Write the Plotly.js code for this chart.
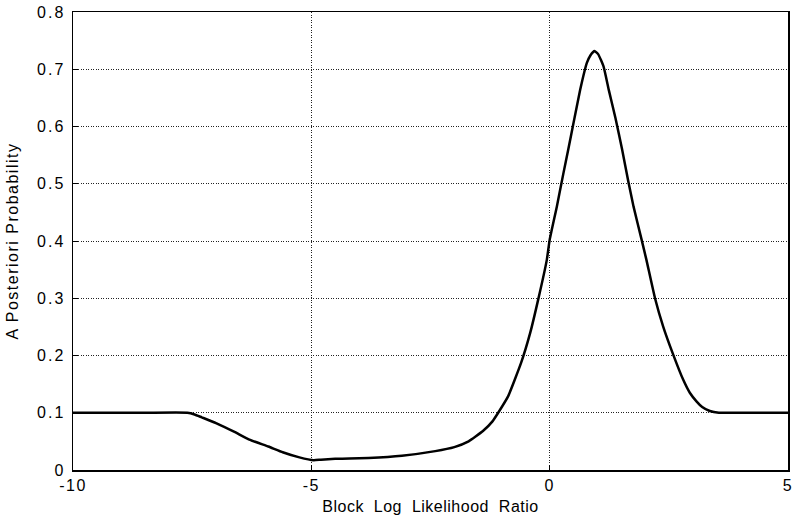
<!DOCTYPE html>
<html>
<head>
<meta charset="utf-8">
<script src="https://cdn.plot.ly/plotly-3.0.1.min.js"></script>
<style>
html,body{margin:0;padding:0;background:#fff;}
#chart .ytick text{letter-spacing:2px;}
#chart .xtick text{letter-spacing:1.5px;}
#chart .ytitle{letter-spacing:1.5px;}
#chart .xtitle{letter-spacing:0.5px;}
</style>
</head>
<body>
<div id="chart" style="width:797px;height:525px;"></div>
<script>
// Block log likelihood ratio (x) and a posteriori probability (y)
const llr = [-10, -8.5, -7.6, -7.45, -7.3, -7.0, -6.6, -6.3, -5.9, -5.6, -5.25, -4.95, -4.8, -4.5, -4.2, -3.8, -3.1, -2.4, -2.0, -1.7, -1.4, -1.2, -1.08, -0.87, -0.6, -0.41, -0.24, -0.06, 0.0, 0.15, 0.29, 0.39, 0.5, 0.64, 0.78, 0.86, 0.94, 1.02, 1.13, 1.24, 1.38, 1.52, 1.65, 1.76, 1.93, 2.03, 2.21, 2.38, 2.59, 2.80, 2.94, 3.08, 3.2, 3.36, 3.55, 4.2, 5];
const prob = [0.1, 0.1, 0.1, 0.097, 0.092, 0.082, 0.066, 0.053, 0.041, 0.031, 0.022, 0.017, 0.018, 0.0195, 0.02, 0.021, 0.025, 0.033, 0.04, 0.05, 0.068, 0.085, 0.1, 0.129, 0.187, 0.239, 0.298, 0.367, 0.402, 0.46, 0.519, 0.56, 0.606, 0.664, 0.711, 0.725, 0.732, 0.726, 0.705, 0.664, 0.615, 0.56, 0.504, 0.46, 0.402, 0.367, 0.30, 0.251, 0.202, 0.158, 0.135, 0.12, 0.11, 0.103, 0.1, 0.1, 0.1];
const xTicks = [-10, -5, 0, 5];
const yTicks = [0, 0.1, 0.2, 0.3, 0.4, 0.5, 0.6, 0.7, 0.8];

const fontFam = '"Liberation Sans", Arial, sans-serif';
Plotly.newPlot('chart', [{
  x: llr, y: prob, type: 'scatter', mode: 'lines',
  line: {color: '#000', width: 2.5, shape: 'spline', smoothing: 0.4},
  hoverinfo: 'skip'
}], {
  width: 797, height: 525,
  margin: {l: 73, r: 9, t: 12, b: 54.5},
  paper_bgcolor: '#fff', plot_bgcolor: '#fff',
  showlegend: false,
  font: {family: fontFam, color: '#000', size: 16},
  xaxis: {
    range: [-10, 5], tickvals: xTicks, ticktext: xTicks.map(String),
    showgrid: true, gridcolor: '#222', griddash: '1px,1.5px', gridwidth: 1,
    showline: true, linecolor: '#000', linewidth: 1.5, mirror: true,
    ticks: 'inside', ticklen: 5, tickcolor: '#000', zeroline: false,
    tickfont: {family: fontFam, size: 16, color: '#000'},
    title: {text: 'Block  Log  Likelihood  Ratio', font: {family: fontFam, size: 16, color: '#000'}, standoff: 8}
  },
  yaxis: {
    range: [0, 0.8], tickvals: yTicks, ticktext: yTicks.map(v => v === 0 ? '0' : v.toFixed(1)),
    showgrid: true, gridcolor: '#222', griddash: '1px,1.5px', gridwidth: 1,
    showline: true, linecolor: '#000', linewidth: 1.5, mirror: true,
    ticks: 'inside', ticklen: 5, tickcolor: '#000', zeroline: false,
    ticklabelstandoff: 3,
    tickfont: {family: fontFam, size: 16, color: '#000'},
    title: {text: 'A Posteriori Probability', font: {family: fontFam, size: 16, color: '#000'}, standoff: 20}
  }
}, {displayModeBar: false, staticPlot: true});
</script>
</body>
</html>
